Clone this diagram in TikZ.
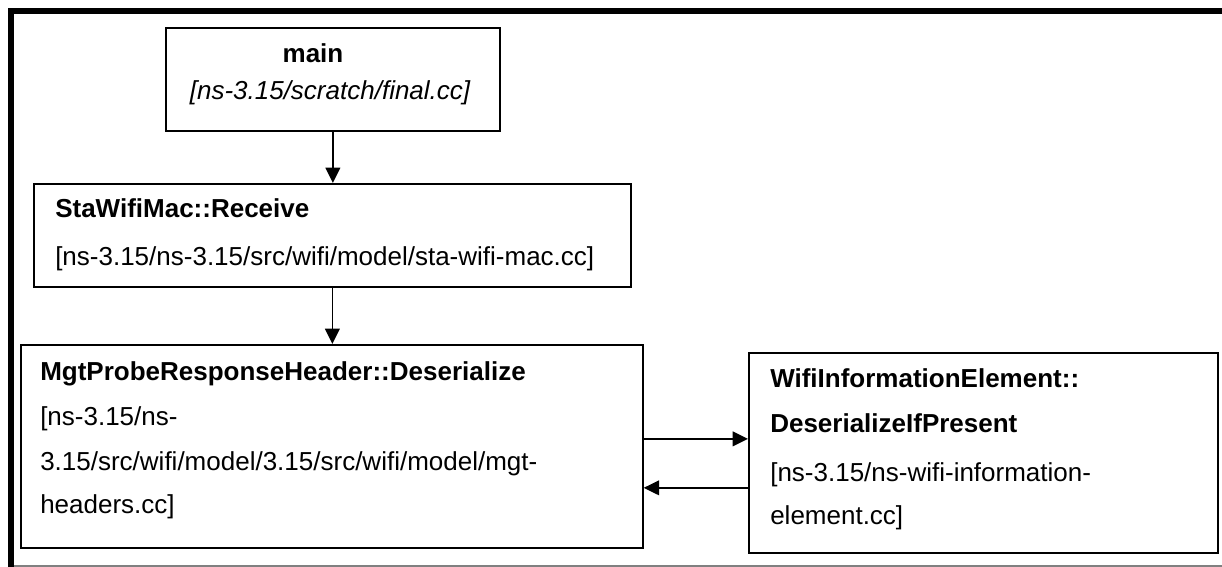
\documentclass[tikz,border=0pt]{standalone}
\usepackage{fontspec}
\setmainfont{Liberation Sans}
\usetikzlibrary{arrows.meta, positioning}

\begin{document}
\begin{tikzpicture}[
        x=0.75pt, y=-0.75pt,
        >={Triangle[length=11.5pt, width=11pt]},
        box/.style={draw, line width=1.3pt, anchor=north west, inner sep=0pt},
        txt/.style={anchor=base west, inner sep=0pt, font=\fontsize{19.5}{23}\selectfont},
        ttl/.style={txt, font=\fontsize{19.5}{23}\selectfont\bfseries},
        arr/.style={->, line width=1.3pt}
    ]
        \useasboundingbox (0,0) rectangle (1222,567);

        % frame
        \draw[line width=4.5pt] (11,567) -- (11,11) -- (1222,11);
        \draw[gray, line width=1.1pt] (14,566) -- (1222,566);

        % boxes
        \node[box, minimum width=250.5pt, minimum height=77.25pt] (mainbox) at (165,27) {};
        \node[box, minimum width=447.75pt, minimum height=77.25pt] (stabox) at (33,183) {};
        \node[box, minimum width=466.5pt, minimum height=152.25pt] (mgtbox) at (20,344) {};
        \node[box, minimum width=351.75pt, minimum height=150pt] (wifibox) at (748,352) {};

        % main
        \node[ttl, anchor=base] (mainname) at (313,63) {main};
        \node[txt, anchor=base] (mainfile) at (330,100) {\itshape [ns-3.15/scratch/final.cc]};

        % StaWifiMac
        \node[ttl] (staname) at (55,217) {StaWifiMac::Receive};
        \node[txt] (stafile) at (55,265) {[ns-3.15/ns-3.15/src/wifi/model/sta-wifi-mac.cc]};

        % MgtProbeResponseHeader
        \node[ttl] (mgtname) at (40,380) {MgtProbeResponseHeader::Deserialize};
        \node[txt] (mgtfilea) at (40,425) {[ns-3.15/ns-};
        \node[txt] (mgtfileb) at (40,470) {3.15/src/wifi/model/3.15/src/wifi/model/mgt-};
        \node[txt] (mgtfilec) at (40,513) {headers.cc]};

        % WifiInformationElement
        \node[ttl] (wifinamea) at (770,387) {WifiInformationElement::};
        \node[ttl] (wifinameb) at (770,432) {DeserializeIfPresent};
        \node[txt] (wififilea) at (770,481) {[ns-3.15/ns-wifi-information-};
        \node[txt] (wififileb) at (770,524) {element.cc]};

        % calls
        \draw[arr] (mainbox.south) -- (mainbox.south |- stabox.north);
        \draw[arr] (stabox.south) -- (stabox.south |- mgtbox.north);
        \coordinate (callout) at ([yshift=5.6pt]mgtbox.east);
        \coordinate (callback) at ([yshift=-31.1pt]mgtbox.east);
        \draw[arr] (callout) -- (callout -| wifibox.west);
        \draw[arr] (callback -| wifibox.west) -- (callback);

    \end{tikzpicture}
\end{document}
